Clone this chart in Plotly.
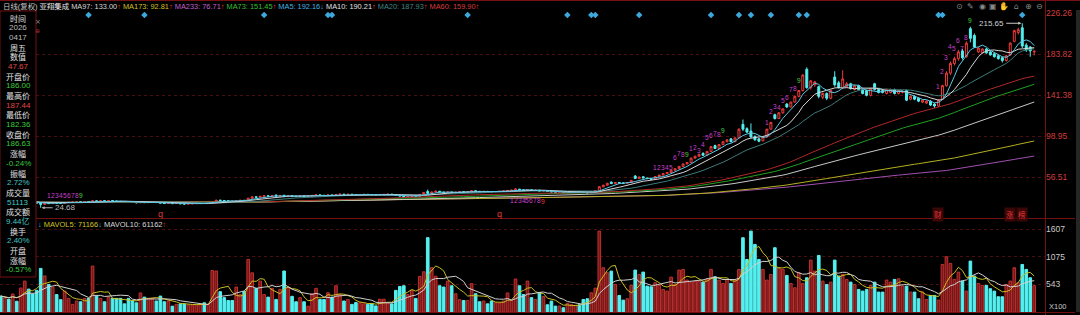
import plotly.graph_objects as go
import pandas as pd

W, H = 1080, 315

# ---------------- data ----------------
opens = [
    30.4, 29.8, 30.4, 29.9, 30.6, 30.2, 31.0, 31.9, 31.1,
    30.3, 29.6, 28.2, 29.5, 29.0, 29.9, 29.6, 29.3, 30.0, 30.4,
    30.5, 30.9, 30.6, 31.1, 30.7, 31.8, 31.4, 31.9, 31.6, 32.0,
    31.7, 31.3, 31.0, 30.8, 30.4, 30.1, 29.8, 30.3, 29.9, 30.2,
    30.5, 30.1, 29.5, 29.1, 29.4, 29.0, 29.2, 28.8, 28.5, 28.7,
    28.9, 29.1, 29.4, 29.2, 29.5, 31.0, 32.6, 32.1, 31.8, 31.5,
    31.2, 32.0, 32.4, 32.2, 34.5, 36.0, 35.5, 36.5, 37.0, 36.6,
    37.5, 36.8, 37.6, 36.2, 37.0, 36.6, 36.3, 36.9, 36.6, 36.9,
    37.4, 38.0, 37.6, 37.3, 37.9, 37.5, 38.4, 38.8, 38.4, 38.7,
    38.4, 38.1, 38.4, 38.6, 38.3, 38.0, 37.7, 38.1, 38.5, 38.8,
    38.4, 37.6, 36.8, 35.8, 36.3, 37.0, 36.6, 38.5, 41.5, 39.6,
    41.0, 41.8, 41.0, 40.3, 41.0, 40.4, 40.8, 41.2, 40.9, 41.2,
    42.2, 41.7, 41.4, 41.7, 41.4, 41.1, 41.4, 41.7, 42.0, 42.6,
    42.9, 44.0, 43.2, 42.7, 43.3, 42.6, 42.9, 41.9, 42.2, 41.6,
    41.0, 40.6, 40.9, 40.3, 40.6, 40.9, 41.1, 40.8, 40.4, 40.0,
    41.2, 42.5, 46.3, 48.0, 51.2, 49.6, 50.8, 50.3, 50.0, 50.8,
    57.5, 54.8, 56.8, 55.5, 54.8, 54.2, 57.0, 58.5, 60.0, 61.2,
    63.5, 65.0, 67.5, 70.0, 71.5, 76.0, 78.0, 81.0, 79.0, 83.0,
    89.0, 86.0, 90.0, 93.0, 96.0, 93.0, 97.0, 111.0, 106.5, 104.0,
    98.5, 96.0, 94.0, 98.0, 106.0, 121.0, 117.0, 123.0, 132.0, 129.0,
    134.0, 140.0, 146.0, 168.0, 149.0, 152.0, 150.0, 139.0, 143.0, 138.0,
    160.0, 154.0, 149.0, 150.0, 153.0, 147.0, 151.0, 147.0, 146.0, 141.0,
    153.0, 147.0, 146.0, 143.0, 144.0, 147.0, 143.0, 144.0, 146.0, 137.0,
    140.0, 138.0, 134.0, 133.0, 135.0, 132.0, 130.0, 137.0, 151.0, 164.0,
    174.0, 179.0, 187.0, 181.0, 210.0, 203.0, 186.0, 185.0, 189.0, 186.0,
    184.0, 182.0, 180.0, 177.0, 183.0, 197.0, 206.0, 211.0, 193.0, 191.0, 186.00,
]
closes = [
    29.9, 30.4, 29.9, 30.6, 30.2, 31.0, 31.9, 31.1, 30.3,
    29.5, 28.2, 29.4, 29.0, 29.8, 29.5, 29.3, 30.1, 30.4, 30.6,
    30.9, 30.6, 31.0, 30.8, 31.8, 31.4, 31.9, 31.6, 32.0, 31.7,
    31.3, 31.0, 30.8, 30.4, 30.1, 29.8, 30.3, 30.0, 30.2, 30.5,
    30.1, 29.5, 29.1, 29.4, 29.0, 29.2, 28.8, 28.5, 28.7, 28.9,
    29.1, 29.4, 29.2, 29.5, 31.0, 32.5, 32.1, 31.8, 31.5, 31.2,
    32.0, 32.4, 32.1, 34.5, 36.0, 35.5, 36.5, 37.0, 36.6, 37.2,
    36.8, 37.4, 36.2, 37.0, 36.6, 36.3, 36.9, 36.6, 36.9, 37.4,
    38.0, 37.6, 37.3, 37.9, 37.5, 38.4, 38.8, 38.4, 38.7, 38.4,
    38.1, 38.4, 38.6, 38.3, 38.0, 37.7, 38.1, 38.5, 38.8, 38.4,
    37.6, 36.8, 35.8, 36.3, 37.0, 36.6, 38.5, 40.5, 39.5, 41.0,
    41.8, 41.0, 40.3, 41.0, 40.4, 40.8, 41.2, 40.9, 41.2, 42.2,
    41.7, 41.4, 41.7, 41.4, 41.1, 41.4, 41.7, 42.0, 42.6, 42.9,
    44.0, 43.2, 42.7, 43.3, 42.6, 42.9, 41.9, 42.2, 41.6, 41.0,
    40.6, 40.9, 40.3, 40.6, 40.9, 41.1, 40.8, 40.4, 40.0, 41.2,
    42.5, 46.5, 48.0, 50.0, 49.6, 50.8, 50.3, 50.0, 50.8, 53.0,
    55.0, 56.5, 55.5, 54.8, 54.2, 57.0, 58.5, 60.0, 61.2, 63.5,
    65.0, 67.5, 70.0, 71.5, 76.0, 78.0, 80.0, 79.0, 83.0, 88.0,
    86.0, 90.0, 93.0, 95.0, 93.0, 97.0, 106.0, 106.0, 103.0, 98.0,
    95.0, 93.5, 98.0, 106.0, 113.0, 117.0, 123.0, 127.0, 129.0, 134.0,
    140.0, 146.0, 162.0, 149.0, 156.0, 155.0, 140.0, 143.0, 138.0, 146.0,
    152.0, 149.0, 158.0, 153.0, 148.0, 151.0, 147.0, 143.0, 141.0, 148.0,
    147.0, 144.0, 144.0, 147.0, 147.0, 143.0, 146.0, 145.0, 136.0, 140.0,
    137.0, 135.0, 136.0, 135.0, 131.0, 130.0, 136.0, 151.0, 164.0, 174.0,
    179.0, 186.0, 180.0, 195.0, 200.0, 191.0, 190.0, 189.0, 185.0, 183.0,
    181.0, 179.0, 177.0, 182.0, 195.0, 208.0, 209.0, 192.0, 188.0, 187.08, 186.63,
]
highs = [
    30.7, 30.6, 30.6, 30.8, 30.8, 31.2, 32.2, 32.1, 31.3,
    30.6, 29.9, 29.6, 29.8, 30.0, 30.1, 29.8, 30.3, 30.6, 30.8,
    31.1, 31.0, 31.2, 31.3, 32.6, 32.0, 32.1, 32.0, 32.2, 32.1,
    31.8, 31.4, 31.1, 30.9, 30.5, 30.2, 30.5, 30.4, 30.3, 30.7,
    30.6, 30.2, 29.6, 29.5, 29.5, 29.3, 29.3, 28.9, 28.8, 29.0,
    29.2, 29.5, 29.5, 29.6, 31.3, 32.9, 32.8, 32.3, 31.9, 31.6,
    32.2, 32.6, 32.6, 34.9, 36.4, 36.3, 36.8, 37.3, 37.2, 37.5,
    38.8, 37.6, 37.8, 37.2, 37.1, 36.7, 37.0, 37.0, 37.0, 37.6,
    38.2, 38.1, 37.7, 38.0, 38.0, 38.6, 39.0, 38.9, 38.8, 38.8,
    38.5, 38.5, 38.7, 38.7, 38.4, 38.1, 38.2, 38.6, 38.9, 38.9,
    38.5, 37.7, 36.9, 36.5, 37.2, 37.1, 38.7, 40.8, 43.5, 41.3,
    42.1, 41.9, 41.1, 41.3, 41.2, 41.0, 41.4, 41.3, 41.4, 42.5,
    42.3, 41.8, 41.9, 41.8, 41.5, 41.6, 41.9, 42.2, 42.8, 43.1,
    45.0, 44.1, 43.3, 43.6, 43.4, 43.1, 43.0, 42.4, 42.3, 41.7,
    41.1, 41.0, 41.0, 40.7, 41.0, 41.2, 41.2, 40.9, 40.5, 41.4,
    42.8, 46.8, 48.5, 50.4, 52.0, 51.2, 51.0, 50.5, 51.0, 53.3,
    58.5, 56.9, 57.0, 55.7, 55.0, 57.3, 58.8, 60.3, 61.5, 63.9,
    65.4, 68.0, 70.5, 72.0, 76.5, 78.5, 80.5, 82.0, 83.5, 88.5,
    90.0, 90.5, 93.5, 95.5, 96.5, 97.5, 106.8, 116.0, 108.0, 112.0,
    99.5, 97.0, 98.5, 106.5, 113.5, 122.0, 123.5, 127.5, 133.0, 134.5,
    140.5, 146.5, 163.0, 170.0, 157.0, 156.0, 151.0, 144.0, 144.0, 147.0,
    166.0, 156.0, 167.0, 155.0, 154.0, 152.0, 152.0, 148.0, 147.0, 149.0,
    154.0, 148.0, 147.0, 148.0, 148.0, 148.0, 147.0, 146.0, 147.0, 141.0,
    141.0, 139.0, 137.0, 136.0, 136.0, 133.0, 137.0, 152.0, 166.0, 176.0,
    181.0, 188.0, 189.0, 197.0, 212.0, 205.0, 191.0, 190.0, 190.0, 187.0,
    185.0, 183.0, 181.0, 183.0, 196.0, 209.0, 211.0, 215.65, 195.0, 192.0, 187.44,
]
lows = [
    29.6, 29.6, 29.7, 29.8, 30.0, 30.1, 30.8, 30.9, 30.1,
    29.3, 24.68, 28.0, 28.8, 28.9, 29.3, 29.1, 29.2, 29.9, 30.3,
    30.4, 30.4, 30.5, 30.6, 30.6, 31.2, 31.3, 31.4, 31.5, 31.5,
    31.2, 30.9, 30.7, 30.3, 30.0, 29.7, 29.7, 29.9, 29.8, 30.1,
    30.0, 29.4, 29.0, 29.0, 28.9, 28.9, 28.7, 28.4, 28.4, 28.6,
    28.8, 29.0, 29.1, 29.1, 29.4, 30.8, 31.9, 31.7, 31.4, 31.1,
    31.1, 31.9, 32.0, 32.1, 34.3, 35.3, 35.4, 36.3, 36.4, 36.5,
    36.7, 36.7, 36.0, 36.1, 36.5, 36.2, 36.2, 36.5, 36.5, 36.8,
    37.3, 37.5, 37.2, 37.2, 37.4, 37.4, 38.3, 38.3, 38.3, 38.3,
    38.0, 38.0, 38.3, 38.2, 37.9, 37.6, 37.6, 38.0, 38.4, 38.3,
    37.5, 36.7, 35.6, 35.7, 36.2, 36.5, 36.5, 38.4, 39.0, 39.4,
    40.8, 40.8, 40.1, 40.2, 40.2, 40.3, 40.7, 40.8, 40.8, 41.1,
    41.6, 41.3, 41.3, 41.3, 41.0, 41.0, 41.3, 41.6, 41.9, 42.5,
    42.8, 43.0, 42.5, 42.6, 42.4, 42.5, 41.7, 41.8, 41.4, 40.8,
    40.5, 40.5, 40.2, 40.2, 40.5, 40.8, 40.7, 40.3, 39.9, 39.9,
    41.1, 42.4, 46.0, 47.6, 49.3, 49.4, 50.1, 49.8, 49.9, 50.7,
    54.6, 54.5, 55.2, 54.6, 53.8, 54.0, 56.8, 58.3, 59.7, 61.0,
    63.2, 64.8, 67.2, 69.6, 71.2, 75.6, 77.6, 78.5, 78.8, 82.7,
    85.5, 85.7, 89.6, 92.6, 92.6, 92.7, 96.8, 104.0, 102.0, 97.0,
    94.0, 92.5, 93.5, 97.5, 105.5, 116.0, 116.5, 122.0, 128.0, 128.5,
    133.5, 139.0, 145.0, 148.0, 147.0, 150.0, 138.0, 137.0, 136.0, 137.0,
    150.0, 148.0, 148.0, 149.0, 147.0, 146.0, 146.0, 142.0, 140.0, 140.0,
    146.0, 143.0, 143.0, 142.0, 143.0, 142.0, 142.0, 143.0, 135.0, 136.0,
    136.0, 134.0, 133.0, 132.0, 130.0, 128.0, 129.0, 136.0, 150.0, 162.0,
    172.0, 177.0, 178.0, 180.0, 196.0, 190.0, 185.0, 184.0, 184.0, 182.0,
    180.0, 178.0, 175.0, 176.0, 182.0, 196.0, 204.0, 190.0, 186.0, 181.0, 182.36,
]
volumes = [  # x100 lots
    310, 275, 250, 350, 210, 465, 600, 445, 350,
    420, 845, 700, 535, 485, 340, 240, 405, 265, 150,
    215, 200, 265, 265, 890, 310, 265, 200, 290, 265,
    265, 265, 160, 265, 215, 180, 370, 290, 265, 265,
    215, 310, 200, 215, 115, 150, 160, 160, 135, 135,
    135, 150, 180, 150, 805, 795, 395, 280, 225, 225,
    485, 340, 395, 1020, 760, 460, 600, 340, 290, 460,
    245, 440, 795, 485, 305, 200, 280, 200, 115, 355,
    460, 245, 245, 375, 290, 510, 340, 215, 245, 150,
    185, 180, 160, 150, 160, 120, 250, 250, 175, 160,
    420, 495, 510, 340, 420, 265, 690, 780, 1440, 860,
    695, 510, 485, 600, 510, 355, 240, 225, 225, 550,
    355, 200, 215, 160, 215, 180, 175, 215, 370, 225,
    640, 510, 340, 600, 280, 245, 380, 300, 142, 213,
    116, 116, 84, 168, 148, 129, 142, 245, 258, 374,
    464, 1567, 858, 761, 793, 535, 322, 232, 258, 516,
    813, 729, 774, 503, 490, 568, 516, 439, 406, 677,
    535, 813, 826, 619, 580, 600, 600, 580, 632, 826,
    684, 619, 555, 632, 555, 619, 826, 1438, 1019, 1567,
    1309, 1019, 826, 619, 729, 1245, 858, 826, 710, 555,
    471, 761, 555, 664, 1006, 793, 1096, 600, 535, 580,
    1006, 697, 729, 632, 580, 535, 439, 406, 439, 516,
    580, 387, 387, 619, 580, 632, 645, 503, 503, 387,
    387, 258, 387, 245, 322, 322, 232, 922, 1071, 942,
    632, 774, 600, 406, 987, 697, 555, 516, 516, 452,
    406, 297, 297, 535, 600, 858, 568, 922, 826, 664, 511.13,
]

price_ticks = [226.26, 183.82, 141.38, 98.95, 56.51]
vol_ticks = [1607, 1075, 543]

ma_specs = [  # (period, line colour)
    (233, '#a050b0'), (173, '#b4b020'), (97, '#c8c8c8'), (73, '#20a020'),
    (60, '#b02828'), (20, '#3c7c78'), (10, '#d8d8d8'), (5, '#5cc8e8'),
]
mavol_specs = [(5, '#c8c020'), (10, '#d0d0d0')]

header_items = [  # (text, colour)
    ("日线(复权) ", '#c8c8c8'), ("亚翔集成 ", '#e8e8e8'),
    ("MA97: 133.00", '#d8d8d8'), ("↑ ", '#e03030'),
    ("MA173: 92.81", '#d0c020'), ("↑ ", '#e03030'),
    ("MA233: 76.71", '#c060d0'), ("↑ ", '#e03030'),
    ("MA73: 151.45", '#30c030'), ("↑ ", '#e03030'),
    ("MA5: 192.16", '#40b4e0'), ("↓ ", '#40b4e0'),
    ("MA10: 190.21", '#e0e0e0'), ("↑ ", '#e03030'),
    ("MA20: 187.93", '#3f8784'), ("↑ ", '#e03030'),
    ("MA60: 159.90", '#d83c3c'), ("↑", '#e03030'),
]
vol_header = [
    ("↓ ", '#40b4e0'), ("MAVOL5: 71166", '#d0c020'), ("↓ ", '#40b4e0'),
    ("MAVOL10: 61162", '#d8d8d8'), ("↑", '#e03030'),
]
panel_rows = [
    ("时间", 'w'), ("2026", 'g'), ("0417", 'g'), ("周五", 'w'), ("数值", 'w'),
    ("47.67", 'r'), ("开盘价", 'w'), ("186.00", 'gr'), ("最高价", 'w'),
    ("187.44", 'r'), ("最低价", 'w'), ("182.36", 'gr'), ("收盘价", 'w'),
    ("186.63", 'gr'), ("涨幅", 'w'), ("-0.24%", 'gr'), ("振幅", 'w'),
    ("2.72%", 'c'), ("成交量", 'w'), ("51113", 'c'), ("成交额", 'w'),
    ("9.44亿", 'c'), ("换手", 'w'), ("2.40%", 'c'), ("开盘", 'w'),
    ("涨幅", 'w'), ("-0.57%", 'gr'),
]

# signal diamonds (bar indices) and TD-sequence label runs (start bar, label price levels)
diamond_bars = [22, 36, 66, 82, 83, 117, 142, 148, 149, 160, 178, 185, 188,
                193, 200, 202, 235, 236, 256]
td_runs = [
    (12, [37.8, 37.8, 37.8, 37.8, 37.8, 37.8, 37.8, 37.8, 37.8], '#40d040'),
    (128, [32.7, 32.7, 32.7, 32.7, 32.7, 32.7, 32.7, 32.7, 31.6], '#e03c3c'),
    (164, [66.8, 66.8, 66.8, 66.8, 66.8, 77.2, 81.3, 80.3, 80.3], '#40d040'),
    (173, [86.5, 87.5, 84.4, 90.6, 97.9, 99.9, 102.0, 101.0, 105.1], '#40d040'),
    (192, [113.4, 124.8, 130.0, 128.9, 136.2, 138.3, 147.6, 148.6, 156.9], '#40d040'),
    (235, [149.7, 165.2, 179.7, 191.1, 189.0, 198.3, 190.0, 200.4, 218.0], '#40d040'),
]
event_marks = [(40, "q"), (125, "q"), (235, "财"), (253, "涨"), (256, "榜")]
high_mark = (256, 215.65)
low_mark = (10, 24.68)

# ---------------- styling ----------------
UP = '#f03c3c'
DN = '#54f0f0'
VUP_FILL = '#7a1818'
VUP_LINE = '#c03030'
GRID = '#4a0e0e'
FRAME = '#741010'
LAT = "Liberation Sans, Arial, sans-serif"
CJK = "Noto Sans CJK SC, sans-serif"
MIX = "Liberation Sans, Noto Sans CJK SC, sans-serif"
PCOL = {'w': '#e0e0e0', 'g': '#bdbdbd', 'r': '#e04848', 'gr': '#3cc83c', 'c': '#40c4c4'}


def px(x):
    return x / W


def py(y):
    return 1 - y / H


def spans(items):
    return "".join(f"<span style='color:{c}'>{t}</span>" for t, c in items)


n = len(closes)
xs = list(range(n))
up = [c >= o for o, c in zip(opens, closes)]

fig = go.Figure()

fig.add_trace(go.Candlestick(
    x=xs, open=opens, high=highs, low=lows, close=closes,
    increasing=dict(line=dict(color=UP, width=1), fillcolor='#000000'),
    decreasing=dict(line=dict(color=DN, width=1), fillcolor=DN),
    whiskerwidth=0, xaxis='x', yaxis='y', hoverinfo='skip'))

cs = pd.Series(closes)
for period, color in ma_specs:
    fig.add_trace(go.Scatter(x=xs, y=cs.rolling(period, min_periods=1).mean(),
                             mode='lines', line=dict(color=color, width=1),
                             xaxis='x', yaxis='y', hoverinfo='skip'))

fig.add_trace(go.Scatter(x=diamond_bars, y=[224.2] * len(diamond_bars), mode='markers',
                         marker=dict(symbol='diamond', size=5, color='#3ca8dc'),
                         xaxis='x', yaxis='y', hoverinfo='skip'))

fig.add_trace(go.Bar(
    x=xs, y=volumes, width=0.66,
    marker=dict(color=[VUP_FILL if u else DN for u in up],
                line=dict(color=[VUP_LINE if u else DN for u in up], width=1)),
    xaxis='x', yaxis='y2', hoverinfo='skip'))

vs = pd.Series(volumes)
for period, color in mavol_specs:
    fig.add_trace(go.Scatter(x=xs, y=vs.rolling(period, min_periods=1).mean(),
                             mode='lines', line=dict(color=color, width=1),
                             xaxis='x', yaxis='y2', hoverinfo='skip'))

annots = []
annots.append(dict(x=px(1), y=py(6), xref='paper', yref='paper', text=spans(header_items),
                   showarrow=False, xanchor='left', yanchor='middle',
                   font=dict(color='#d8d8d8', size=7.4, family=MIX)))
annots.append(dict(x=px(36), y=py(224), xref='paper', yref='paper', text=spans(vol_header),
                   showarrow=False, xanchor='left', yanchor='middle',
                   font=dict(color='#d8d8d8', size=7.5, family=LAT)))
for k, (text, ck) in enumerate(panel_rows):
    ascii_t = text.replace('亿', '').isascii()
    annots.append(dict(x=px(18), y=py(18 + 9.69 * k), xref='paper', yref='paper', text=text,
                       showarrow=False, xanchor='center', yanchor='middle',
                       font=dict(color=PCOL[ck], size=8 if ascii_t else 8,
                                 family=MIX if ascii_t else CJK)))
for start, levels, ninecol in td_runs:
    for k, lv in enumerate(levels):
        annots.append(dict(x=start + k, y=lv, xref='x', yref='y', text=str(k + 1),
                           showarrow=False, xanchor='center', yanchor='middle',
                           font=dict(color=ninecol if k == 8 else '#c840c8', size=6.6, family=LAT)))
for bar, text in event_marks:
    cjk = not text.isascii()
    annots.append(dict(x=bar, y=18.2, xref='x', yref='y', text=text, showarrow=False,
                       xanchor='center', yanchor='middle',
                       bgcolor='#3a0606' if cjk else None,
                       font=dict(color='#e03838', size=7.5 if cjk else 9,
                                 family=CJK if cjk else LAT)))
annots.append(dict(x=high_mark[0], y=high_mark[1], xref='x', yref='y',
                   text=f"{high_mark[1]:.2f}", showarrow=True, ax=-16, ay=0,
                   xanchor='right', yanchor='middle', arrowhead=2, arrowsize=0.6,
                   arrowwidth=1, arrowcolor='#c8c8c8', standoff=1,
                   font=dict(color='#d0d0d0', size=8, family=LAT)))
annots.append(dict(x=low_mark[0], y=low_mark[1], xref='x', yref='y',
                   text=f"{low_mark[1]:.2f}", showarrow=True, ax=12, ay=0,
                   xanchor='left', yanchor='middle', arrowhead=2, arrowsize=0.6,
                   arrowwidth=1, arrowcolor='#b0b0b0', standoff=1,
                   font=dict(color='#b8b8b8', size=8, family=LAT)))
annots.append(dict(x=px(1047), y=py(306), xref='paper', yref='paper', text="X100",
                   showarrow=False, xanchor='left', yanchor='middle',
                   font=dict(color='#c8c8c8', size=7.5, family=LAT)))
for sym, x in zip(["⊙", "✎", "◉", "▣", "✋", "⌂", "⊕", "⊖"],
                  [959, 970, 982, 993, 1004, 1016, 1028, 1039]):
    annots.append(dict(x=px(x), y=py(6), xref='paper', yref='paper', text=sym,
                       showarrow=False, xanchor='center', yanchor='middle',
                       font=dict(color='#8a8a8a', size=8, family="DejaVu Sans")))
annots.append(dict(x=px(33), y=py(16), xref='paper', yref='paper', text="×",
                   showarrow=False, font=dict(color='#909090', size=7, family="DejaVu Sans")))
annots.append(dict(x=px(33), y=py(25), xref='paper', yref='paper', text="⊕",
                   showarrow=False, font=dict(color='#a03030', size=6, family="DejaVu Sans")))

shapes = [
    dict(type='line', xref='paper', yref='paper', x0=0, x1=1, y0=py(0.5), y1=py(0.5),
         line=dict(color=FRAME, width=1)),
    dict(type='line', xref='paper', yref='paper', x0=0, x1=px(1075), y0=py(218.5), y1=py(218.5),
         line=dict(color=FRAME, width=1)),
    dict(type='line', xref='paper', yref='paper', x0=0, x1=px(1075), y0=py(312.5), y1=py(312.5),
         line=dict(color=FRAME, width=1)),
    dict(type='line', xref='paper', yref='paper', x0=px(1045.5), x1=px(1045.5), y0=0, y1=1,
         line=dict(color=FRAME, width=1)),
    dict(type='rect', xref='paper', yref='paper', x0=px(1076), x1=1, y0=py(312), y1=py(10),
         fillcolor='#262626', line=dict(width=0)),
    dict(type='rect', xref='paper', yref='paper', x0=0, x1=px(36), y0=py(277), y1=py(11),
         fillcolor='#000000', line=dict(color=FRAME, width=1), layer='above'),
]

fig.update_layout(
    width=W, height=H, margin=dict(l=0, r=0, t=0, b=0), template='none',
    paper_bgcolor='#000000', plot_bgcolor='#000000', showlegend=False,
    bargap=0.3,
    xaxis=dict(domain=[0, px(1045)], range=[-0.2, 261.7], visible=False,
               rangeslider=dict(visible=False), fixedrange=True, automargin=False),
    yaxis=dict(domain=[py(218), py(12)], range=[14.07, 227.30], side='right', anchor='x',
               tickvals=price_ticks, ticktext=[f"{v:.2f}" for v in price_ticks],
               tickfont=dict(color='#d23c3c', size=8.5, family=LAT),
               showgrid=True, gridcolor=GRID, griddash='dot', gridwidth=1,
               zeroline=False, showline=False, ticks='', automargin=False, fixedrange=True),
    yaxis2=dict(domain=[py(312.1), py(219)], range=[0, 1801], side='right', anchor='x',
                tickvals=vol_ticks, ticktext=[str(v) for v in vol_ticks],
                tickfont=dict(color='#c8c8c8', size=8.5, family=LAT),
                showgrid=True, gridcolor=GRID, griddash='dot', gridwidth=1,
                zeroline=False, showline=False, ticks='', automargin=False, fixedrange=True),
    annotations=annots, shapes=shapes,
)

fig.write_html("out.html")
